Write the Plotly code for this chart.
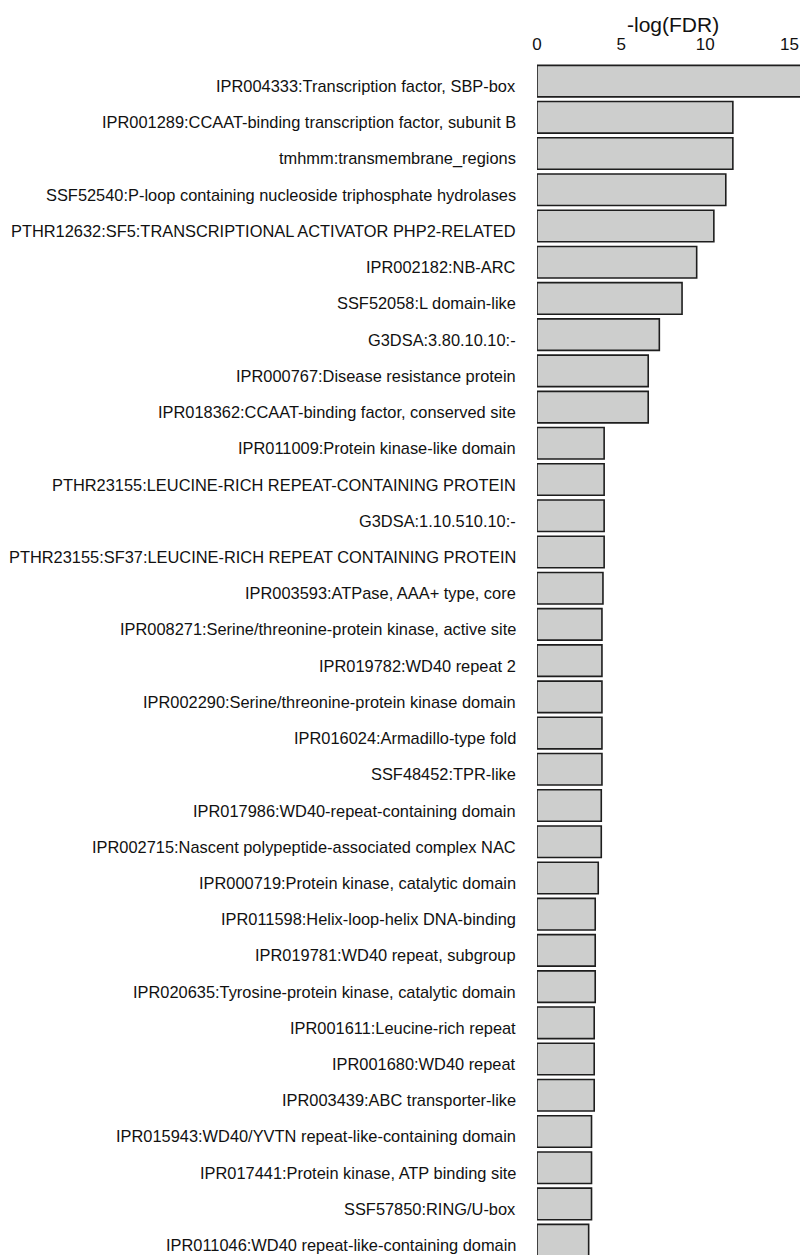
import plotly.graph_objects as go

# Enriched domain terms, top to bottom
terms = [
    "IPR004333:Transcription factor, SBP-box",
    "IPR001289:CCAAT-binding transcription factor, subunit B",
    "tmhmm:transmembrane_regions",
    "SSF52540:P-loop containing nucleoside triphosphate hydrolases",
    "PTHR12632:SF5:TRANSCRIPTIONAL ACTIVATOR PHP2-RELATED",
    "IPR002182:NB-ARC",
    "SSF52058:L domain-like",
    "G3DSA:3.80.10.10:-",
    "IPR000767:Disease resistance protein",
    "IPR018362:CCAAT-binding factor, conserved site",
    "IPR011009:Protein kinase-like domain",
    "PTHR23155:LEUCINE-RICH REPEAT-CONTAINING PROTEIN",
    "G3DSA:1.10.510.10:-",
    "PTHR23155:SF37:LEUCINE-RICH REPEAT CONTAINING PROTEIN",
    "IPR003593:ATPase, AAA+ type, core",
    "IPR008271:Serine/threonine-protein kinase, active site",
    "IPR019782:WD40 repeat 2",
    "IPR002290:Serine/threonine-protein kinase domain",
    "IPR016024:Armadillo-type fold",
    "SSF48452:TPR-like",
    "IPR017986:WD40-repeat-containing domain",
    "IPR002715:Nascent polypeptide-associated complex NAC",
    "IPR000719:Protein kinase, catalytic domain",
    "IPR011598:Helix-loop-helix DNA-binding",
    "IPR019781:WD40 repeat, subgroup",
    "IPR020635:Tyrosine-protein kinase, catalytic domain",
    "IPR001611:Leucine-rich repeat",
    "IPR001680:WD40 repeat",
    "IPR003439:ABC transporter-like",
    "IPR015943:WD40/YVTN repeat-like-containing domain",
    "IPR017441:Protein kinase, ATP binding site",
    "SSF57850:RING/U-box",
    "IPR011046:WD40 repeat-like-containing domain",
]

# -log(FDR) per term
neg_log_fdr = [
    16.0, 11.64, 11.64, 11.22, 10.51, 9.49, 8.62, 7.27, 6.61, 6.61,
    3.99, 3.99, 3.99, 3.99, 3.92, 3.86, 3.86, 3.86, 3.86, 3.86,
    3.82, 3.82, 3.64, 3.46, 3.46, 3.46, 3.40, 3.40, 3.40, 3.24,
    3.24, 3.24, 3.07,
]

x_ticks = [0, 5, 10, 15]
axis_title = "-log(FDR)"

FONT = "Liberation Sans, Arial, Helvetica, sans-serif"
INK = "#111111"

fig = go.Figure(
    go.Bar(
        x=neg_log_fdr,
        y=terms,
        orientation="h",
        width=0.87,
        marker=dict(color="#cdcecd", line=dict(color="#1e1e1e", width=1.6)),
        hoverinfo="x+y",
    )
)

# Term labels, right-aligned against the bars
for term in terms:
    fig.add_annotation(
        x=0, xref="paper", xanchor="right", xshift=-19,
        y=term, yref="y", yanchor="middle", yshift=-5,
        text=term, showarrow=False,
        font=dict(family=FONT, size=16.4, color=INK),
    )

# Axis title above the top ticks
fig.add_annotation(
    x=0.516, xref="paper", xanchor="center",
    y=1, yref="paper", yanchor="middle", yshift=39,
    text=axis_title, showarrow=False,
    font=dict(family=FONT, size=21, color=INK),
)

fig.update_layout(
    width=800,
    height=1255,
    margin=dict(l=537, r=0, t=63, b=0),
    paper_bgcolor="white",
    plot_bgcolor="white",
    showlegend=False,
    font=dict(family=FONT, color=INK),
    xaxis=dict(
        side="top",
        range=[0, 15.63],
        tickvals=x_ticks,
        ticktext=[str(v) for v in x_ticks],
        tickfont=dict(family=FONT, size=17, color=INK),
        showgrid=False,
        zeroline=False,
        showline=False,
        ticks="",
        ticklabelstandoff=9,
        fixedrange=True,
    ),
    yaxis=dict(
        type="category",
        categoryorder="array",
        categoryarray=terms,
        range=[32.41, -0.5],
        showticklabels=False,
        showgrid=False,
        zeroline=False,
        showline=False,
        ticks="",
        fixedrange=True,
    ),
)

fig.write_html("out.html")
